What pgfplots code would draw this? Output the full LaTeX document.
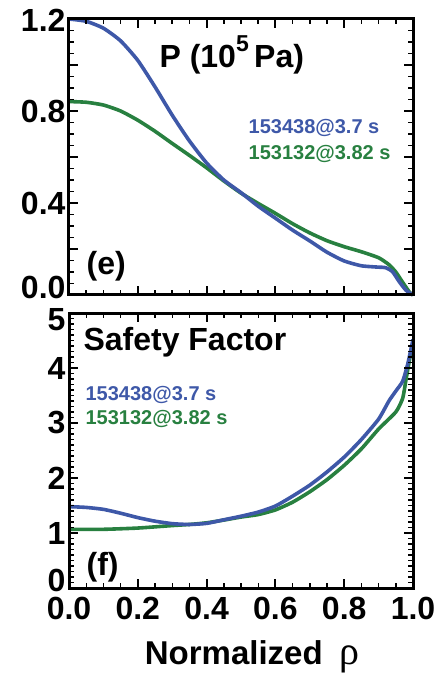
\documentclass[border=0pt]{standalone}
\usepackage{pgfplots}
\pgfplotsset{compat=1.18}
\usepackage{fontspec}
\setmainfont{Liberation Sans}
\newfontfamily\greekfont{Liberation Serif}

\definecolor{shotA}{RGB}{62,88,168}
\definecolor{shotB}{RGB}{40,128,64}

\pgfplotsset{
  panel/.style={
    scale only axis, width=344pt,
    xmin=0, xmax=1,
    axis line style={line width=2.8pt},
    tick align=inside,
    major tick length=9pt, minor tick length=5pt,
    major tick style={line width=2pt, draw=black},
    minor tick style={line width=1.4pt, draw=black},
    xtick={0,0.2,0.4,0.6,0.8,1.0},
    minor xtick={0.05,0.1,0.15,0.25,0.3,0.35,0.45,0.5,0.55,0.65,0.7,0.75,0.85,0.9,0.95},
    /pgf/number format/assume math mode=true,
    ticklabel style={font=\fontsize{32}{32}\selectfont\bfseries},
    clip=false,
  },
  profile/.style={line width=3.6pt, smooth, tension=0.35},
}
\tikzset{
  big/.style={font=\fontsize{32}{32}\selectfont\bfseries},
  shot/.style={font=\fontsize{20}{20}\selectfont\bfseries},
  frame/.style={draw=black, line width=3pt, line cap=rect},
  majtick/.style={draw=black, line width=2pt},
  mintick/.style={draw=black, line width=1.4pt},
}
% shift a tick label vertically without changing its box
\newcommand{\lift}[2]{\raisebox{#1}[\height][\depth]{#2}}

% inward tick marks on all four sides of a panel, in axis units
% #1 ymax, #2 major y step, #3 minor y step,
% #4 minor / #5 major tick length along y, in data units
\newcommand{\boxticks}[5]{%
  \pgfplotsinvokeforeach{0,0.05,...,1.01}{%
    \draw[mintick] (axis cs:##1,0) -- (axis cs:##1,#4);
    \draw[mintick] (axis cs:##1,#1) -- (axis cs:##1,#1-#4);}
  \pgfplotsinvokeforeach{0,0.2,...,1.01}{%
    \draw[majtick] (axis cs:##1,0) -- (axis cs:##1,#5);
    \draw[majtick] (axis cs:##1,#1) -- (axis cs:##1,#1-#5);}
  \pgfplotsinvokeforeach{0,#3,...,#1}{%
    \draw[mintick] (axis cs:0,##1) -- (axis cs:0.0145,##1);
    \draw[mintick] (axis cs:1,##1) -- (axis cs:0.9855,##1);}
  \pgfplotsinvokeforeach{0,#2,...,#1}{%
    \draw[majtick] (axis cs:0,##1) -- (axis cs:0.026,##1);
    \draw[majtick] (axis cs:1,##1) -- (axis cs:0.974,##1);}
}

% pressure profiles, 10^5 Pa
\pgfplotstableread{
rho   p
0.00  1.200
0.05  1.190
0.10  1.160
0.15  1.105
0.20  1.020
0.25  0.905
0.30  0.782
0.35  0.670
0.40  0.574
0.45  0.500
0.50  0.445
0.55  0.386
0.60  0.334
0.65  0.282
0.70  0.235
0.75  0.186
0.80  0.148
0.85  0.127
0.90  0.121
0.92  0.119
0.94  0.102
0.96  0.058
0.98  0.020
1.00  0.000
}\presA
\pgfplotstableread{
rho   p
0.00  0.841
0.05  0.838
0.10  0.826
0.15  0.800
0.20  0.760
0.25  0.712
0.30  0.659
0.35  0.607
0.40  0.553
0.45  0.496
0.50  0.443
0.55  0.398
0.60  0.355
0.65  0.310
0.70  0.270
0.75  0.236
0.80  0.210
0.85  0.188
0.90  0.162
0.93  0.132
0.95  0.100
0.97  0.055
0.99  0.012
1.00  0.000
}\presB

% safety factor profiles
\pgfplotstableread{
rho    q
0.00   1.480
0.05   1.465
0.10   1.430
0.15   1.360
0.20   1.280
0.25   1.215
0.30   1.170
0.35   1.155
0.40   1.175
0.45   1.240
0.50   1.305
0.55   1.380
0.60   1.490
0.65   1.670
0.70   1.870
0.75   2.110
0.80   2.380
0.85   2.700
0.90   3.070
0.93   3.400
0.95   3.580
0.97   3.760
0.985  4.080
1.00   4.520
}\safA
\pgfplotstableread{
rho    q
0.00   1.065
0.10   1.067
0.20   1.090
0.30   1.135
0.35   1.155
0.40   1.185
0.45   1.235
0.50   1.290
0.55   1.335
0.60   1.420
0.65   1.560
0.70   1.750
0.75   1.970
0.80   2.230
0.85   2.530
0.90   2.890
0.95   3.200
0.97   3.450
0.98   3.800
0.99   4.150
1.00   4.450
}\safB

\begin{document}
\begin{tikzpicture}
\useasboundingbox (0,0) rectangle (442pt,681pt);

% (e) pressure
\begin{axis}[panel, at={(69pt,386pt)}, anchor=south west, height=276pt,
    ymin=0, ymax=1.2,
    ytick={0,0.2,0.4,0.6,0.8,1.0,1.2},
    yticklabels={\lift{8pt}{0.0},,0.4,,0.8,,\lift{-1pt}{1.2}},
    minor ytick={0.05,0.1,0.15,0.25,0.3,0.35,0.45,0.5,0.55,0.65,0.7,0.75,0.85,0.9,0.95,1.05,1.1,1.15},
    xticklabels={}]
  \addplot[shotB, profile] table[x=rho, y=p] {\presB};
  \addplot[shotA, profile] table[x=rho, y=p] {\presA};
  \boxticks{1.2}{0.2}{0.05}{0.022}{0.039}
  \draw[frame] (rel axis cs:0,0) rectangle (rel axis cs:1,1);
  \node[big, anchor=base west] at (axis cs:0.253,0.991) {P (10\raisebox{0.5em}{\fontsize{23}{23}\selectfont 5}\,Pa)};
  \node[shot, shotA, anchor=base west] at (axis cs:0.512,0.704) {153438@3.7 s};
  \node[shot, shotB, anchor=base west] at (axis cs:0.512,0.591) {153132@3.82 s};
  \node[big, anchor=base west] at (axis cs:0.041,0.087) {(e)};
\end{axis}

% (f) safety factor
\begin{axis}[panel, at={(69pt,93pt)}, anchor=south west, height=275pt,
    ymin=0, ymax=5,
    ytick={0,1,2,3,4,5},
    yticklabels={\lift{8pt}{0},1,2,3,4,\lift{-7pt}{5}},
    minor ytick={0,0.1,...,5},
    xticklabels={0.0,0.2,0.4,0.6,0.8,1.0},
    xticklabel style={yshift=-6pt}]
  \addplot[shotB, profile] table[x=rho, y=q] {\safB};
  \addplot[shotA, profile] table[x=rho, y=q] {\safA};
  \boxticks{5}{1}{0.1}{0.09}{0.164}
  \draw[frame] (rel axis cs:0,0) rectangle (rel axis cs:1,1);
  \node[big, anchor=base west] at (axis cs:0.032,4.327) {Safety Factor};
  \node[shot, shotA, anchor=base west] at (axis cs:0.038,3.418) {153438@3.7 s};
  \node[shot, shotB, anchor=base west] at (axis cs:0.038,2.964) {153132@3.82 s};
  \node[big, anchor=base west] at (axis cs:0.041,0.236) {(f)};
  \node[font=\fontsize{33}{33}\selectfont\bfseries, anchor=base] at (rel axis cs:0.532,-0.28)
    {Normalized\hspace{0.5em}{\greekfont\mdseries\fontsize{40}{40}\selectfont ρ}};
\end{axis}
\end{tikzpicture}
\end{document}
